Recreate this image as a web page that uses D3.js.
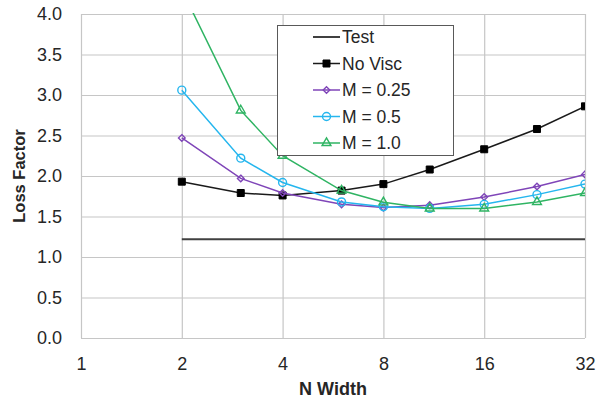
<!DOCTYPE html>
<html>
<head>
<meta charset="utf-8">
<script src="https://cdn.jsdelivr.net/npm/d3@7"></script>
<style>
  body { margin: 0; background: #fff; }
  svg text { font-family: "Liberation Sans", Arial, sans-serif; fill: #262626; }
</style>
</head>
<body>
<svg width="606" height="403"></svg>
<script>
// Values
const nWidth = [2, 3, 4, 6, 8, 11, 16, 23, 32];
const testX = [2, 32];
const testLoss = [1.22, 1.22];
const noVisc = [1.93, 1.79, 1.76, 1.82, 1.90, 2.08, 2.33, 2.58, 2.86];
const m025 = [2.47, 1.97, 1.79, 1.65, 1.61, 1.64, 1.74, 1.87, 2.02];
const m05 = [3.06, 2.22, 1.92, 1.68, 1.62, 1.60, 1.65, 1.77, 1.90];
const m10 = [4.30, 2.81, 2.25, 1.82, 1.675, 1.60, 1.60, 1.68, 1.79];
const xTicks = [1, 2, 4, 8, 16, 32];
const yTicks = [0, 0.5, 1, 1.5, 2, 2.5, 3, 3.5, 4];

const plotLeft = 81, plotRight = 585, plotTop = 14, plotBottom = 338;

const svg = d3.select('svg');

const xScale = d3.scaleLog().base(2).domain([1, 32]).range([plotLeft, plotRight]);
const yScale = d3.scaleLinear().domain([0, 4]).range([plotBottom, plotTop]);

// gridlines
svg.append('g')
    .attr('transform', `translate(0, ${plotBottom})`)
    .call(d3.axisBottom(xScale).tickValues(xTicks).tickSize(-(plotBottom - plotTop)).tickFormat(''))
    .call(g => g.select('.domain').remove())
    .selectAll('line').attr('stroke', '#c6c6c6').attr('stroke-width', 1.2);

svg.append('g')
    .attr('transform', `translate(${plotLeft}, 0)`)
    .call(d3.axisLeft(yScale).tickValues(yTicks).tickSize(-(plotRight - plotLeft)).tickFormat(''))
    .call(g => g.select('.domain').remove())
    .selectAll('line').attr('stroke', '#c6c6c6').attr('stroke-width', 1.2);

// tick labels
svg.append('g')
    .attr('transform', `translate(0, ${plotBottom})`)
    .call(d3.axisBottom(xScale).tickValues(xTicks).tickSize(0).tickPadding(19).tickFormat(d3.format('d')))
    .call(g => g.select('.domain').remove())
    .selectAll('text').attr('font-size', 18).attr('fill', '#262626')
    .attr('font-family', '"Liberation Sans", Arial, sans-serif');

svg.append('g')
    .attr('transform', `translate(${plotLeft}, 0)`)
    .call(d3.axisLeft(yScale).tickValues(yTicks).tickSize(0).tickPadding(19).tickFormat(d3.format('.1f')))
    .call(g => g.select('.domain').remove())
    .selectAll('text').attr('font-size', 18).attr('fill', '#262626')
    .attr('font-family', '"Liberation Sans", Arial, sans-serif');

// axis titles
svg.append('text')
    .attr('x', (plotLeft + plotRight) / 2).attr('y', 395)
    .attr('text-anchor', 'middle').attr('font-size', 18).attr('font-weight', 'bold')
    .text('N Width');

svg.append('text')
    .attr('transform', `translate(25, ${(plotTop + plotBottom) / 2}) rotate(-90)`)
    .attr('text-anchor', 'middle').attr('font-size', 16.5).attr('font-weight', 'bold')
    .text('Loss Factor');

// clip to the plot area
svg.append('clipPath').attr('id', 'plot')
    .append('rect').attr('x', plotLeft).attr('y', plotTop - 1)
    .attr('width', plotRight - plotLeft).attr('height', plotBottom - plotTop + 2);

const line = d3.line().x(d => xScale(d[0])).y(d => yScale(d[1]));
const plot = svg.append('g').attr('clip-path', 'url(#plot)');

const series = [
    { name: 'Test', xs: testX, ys: testLoss, color: '#404040', width: 2, marker: null },
    { name: 'No Visc', xs: nWidth, ys: noVisc, color: '#1a1a1a', width: 1.5, marker: 'square' },
    { name: 'M = 0.25', xs: nWidth, ys: m025, color: '#7f45b8', width: 1.5, marker: 'diamond' },
    { name: 'M = 0.5', xs: nWidth, ys: m05, color: '#25b6ee', width: 1.5, marker: 'circle' },
    { name: 'M = 1.0', xs: nWidth, ys: m10, color: '#2fb463', width: 1.5, marker: 'triangle' }
];

const symbolFor = {
    square: d3.symbol().type(d3.symbolSquare).size(49),
    diamond: d3.symbol().type(d3.symbolDiamond2).size(28),
    circle: d3.symbol().type(d3.symbolCircle).size(50),
    triangle: d3.symbol().type(d3.symbolTriangle).size(34)
};

function drawMarker(g, s, x, y) {
    g.append('path')
        .attr('d', symbolFor[s.marker]())
        .attr('transform', `translate(${x}, ${y})`)
        .attr('fill', s.marker === 'square' ? '#000' : 'none')
        .attr('stroke', s.marker === 'square' ? '#000' : s.color)
        .attr('stroke-width', s.marker === 'square' ? 1 : 1.4);
}

series.forEach(s => {
    const pts = s.xs.map((x, i) => [x, s.ys[i]]);
    plot.append('path')
        .datum(pts)
        .attr('fill', 'none')
        .attr('stroke', s.color)
        .attr('stroke-width', s.width)
        .attr('d', line);
    if (s.marker) {
        pts.forEach(p => drawMarker(plot, s, xScale(p[0]), yScale(p[1])));
    }
});

// legend
const legend = svg.append('g');
legend.append('rect')
    .attr('x', 277.5).attr('y', 25.5).attr('width', 176).attr('height', 130)
    .attr('fill', '#fff').attr('stroke', '#595959').attr('stroke-width', 1);

series.forEach((s, i) => {
    const y = 37 + i * 26.5;
    legend.append('line')
        .attr('x1', 313).attr('x2', 340).attr('y1', y).attr('y2', y)
        .attr('stroke', s.color).attr('stroke-width', s.width);
    if (s.marker) drawMarker(legend, s, 326.5, y);
    legend.append('text')
        .attr('x', 342).attr('y', y).attr('dy', '0.35em')
        .attr('font-size', 17.5)
        .text(s.name);
});
</script>
</body>
</html>
